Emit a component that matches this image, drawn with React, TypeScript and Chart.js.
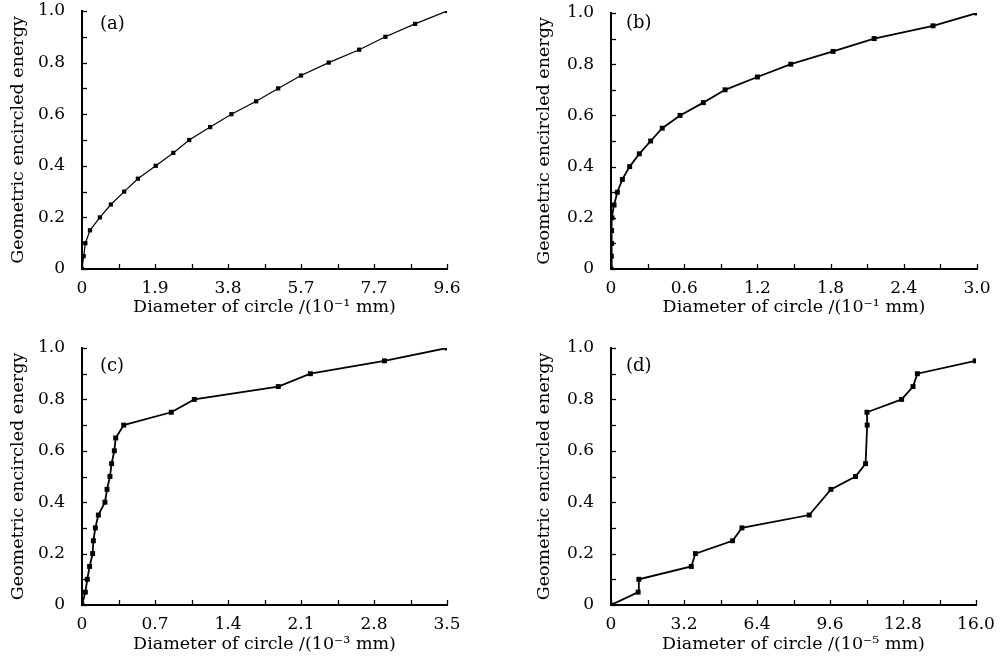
import React, { useEffect, useRef } from "react";
import { Chart, registerables } from "chart.js";
Chart.register(...registerables);

// ---- data ----
const xA = [0, 0.044, 0.088, 0.21, 0.47, 0.76, 1.11, 1.47, 1.94, 2.4, 2.82, 3.37, 3.93, 4.58, 5.16, 5.76, 6.49, 7.29, 7.98, 8.76, 9.6];
const yA = [0, 0.05, 0.1, 0.15, 0.2, 0.25, 0.3, 0.35, 0.4, 0.45, 0.5, 0.55, 0.6, 0.65, 0.7, 0.75, 0.8, 0.85, 0.9, 0.95, 1.0];

const xB = [0, 0.003, 0.005, 0.005, 0.008, 0.025, 0.052, 0.093, 0.153, 0.232, 0.325, 0.42, 0.566, 0.757, 0.935, 1.2, 1.474, 1.82, 2.157, 2.64, 3.0];
const yB = [0, 0.05, 0.1, 0.15, 0.2, 0.25, 0.3, 0.35, 0.4, 0.45, 0.5, 0.55, 0.6, 0.65, 0.7, 0.75, 0.8, 0.85, 0.9, 0.95, 1.0];

const xC = [0, 0.032, 0.051, 0.073, 0.102, 0.109, 0.128, 0.157, 0.22, 0.24, 0.268, 0.284, 0.31, 0.323, 0.4, 0.856, 1.077, 1.882, 2.19, 2.9, 3.5];
const yC = [0, 0.05, 0.1, 0.15, 0.2, 0.25, 0.3, 0.35, 0.4, 0.45, 0.5, 0.55, 0.6, 0.65, 0.7, 0.75, 0.8, 0.85, 0.9, 0.95, 1.0];

const xD = [0, 1.19, 1.22, 3.52, 3.7, 5.33, 5.74, 8.69, 9.64, 10.72, 11.16, 11.23, 11.22, 12.74, 13.24, 13.43, 15.97];
const yD = [0, 0.05, 0.1, 0.15, 0.2, 0.25, 0.3, 0.35, 0.45, 0.5, 0.55, 0.7, 0.75, 0.8, 0.85, 0.9, 0.95];

const yTicks = [0, 0.1, 0.2, 0.3, 0.4, 0.5, 0.6, 0.7, 0.8, 0.9, 1.0];
const yTickLabels = ["0", "", "0.2", "", "0.4", "", "0.6", "", "0.8", "", "1.0"];

const xTicksA = [0, 0.96, 1.92, 2.88, 3.84, 4.8, 5.76, 6.72, 7.68, 8.64, 9.6];
const xTickLabelsA = ["0", "", "1.9", "", "3.8", "", "5.7", "", "7.7", "", "9.6"];
const xTicksB = [0, 0.3, 0.6, 0.9, 1.2, 1.5, 1.8, 2.1, 2.4, 2.7, 3.0];
const xTickLabelsB = ["0", "", "0.6", "", "1.2", "", "1.8", "", "2.4", "", "3.0"];
const xTicksC = [0, 0.35, 0.7, 1.05, 1.4, 1.75, 2.1, 2.45, 2.8, 3.15, 3.5];
const xTickLabelsC = ["0", "", "0.7", "", "1.4", "", "2.1", "", "2.8", "", "3.5"];
const xTicksD = [0, 1.6, 3.2, 4.8, 6.4, 8.0, 9.6, 11.2, 12.8, 14.4, 16.0];
const xTickLabelsD = ["0", "", "3.2", "", "6.4", "", "9.6", "", "12.8", "", "16.0"];

const yTitle = "Geometric encircled energy";
const xTitleA = "Diameter of circle /(10\u207B\u00B9 mm)";
const xTitleB = "Diameter of circle /(10\u207B\u00B9 mm)";
const xTitleC = "Diameter of circle /(10\u207B\u00B3 mm)";
const xTitleD = "Diameter of circle /(10\u207B\u2075 mm)";

const FONT = "'DejaVu Serif', 'Liberation Serif', serif";

type PanelProps = {
  left: number; top: number; width: number; height: number;
  xs: number[]; ys: number[];
  xMax: number; xTicks: number[]; xLabels: string[]; xTitle: string;
  label: string; labelDx: number; labelDy: number;
  padTop: number; padRight: number; yW: number; xH: number; yTitlePad: number;
  lineW: number; pointR: number;
};

const inwardTicks = {
  id: "inwardTicks",
  afterDraw(chart: any) {
    const ctx = chart.ctx;
    const { left, bottom } = chart.chartArea;
    ctx.save();
    ctx.strokeStyle = "#000";
    ctx.lineWidth = 1.3;
    const xs = chart.scales.x;
    xs.ticks.forEach((t: any) => {
      const px = Math.round(xs.getPixelForValue(t.value)) + 0.5;
      ctx.beginPath();
      ctx.moveTo(px, bottom);
      ctx.lineTo(px, bottom - 5);
      ctx.stroke();
    });
    const ys = chart.scales.y;
    ys.ticks.forEach((t: any) => {
      const py = Math.round(ys.getPixelForValue(t.value)) + 0.5;
      ctx.beginPath();
      ctx.moveTo(left, py);
      ctx.lineTo(left + 5, py);
      ctx.stroke();
    });
    const o = chart.options.plugins.panelLabel;
    ctx.fillStyle = "#000";
    ctx.font = `18px ${FONT}`;
    ctx.textBaseline = "middle";
    ctx.textAlign = "left";
    ctx.fillText(o.text, chart.chartArea.left + o.dx, chart.chartArea.top + o.dy);
    ctx.restore();
  },
};

function Panel(p: PanelProps) {
  const ref = useRef<HTMLCanvasElement>(null);
  useEffect(() => {
    if (!ref.current) return;
    const data = p.xs.map((x, i) => ({ x, y: p.ys[i] }));
    const chart = new Chart(ref.current, {
      type: "line",
      data: {
        datasets: [
          {
            data,
            borderColor: "#000",
            backgroundColor: "#000",
            borderWidth: p.lineW,
            pointStyle: "rect",
            pointRadius: p.pointR,
            pointBorderWidth: 0,
            tension: 0,
            fill: false,
          },
        ],
      },
      options: {
        responsive: false,
        animation: false,
        devicePixelRatio: 1,
        layout: { padding: { top: p.padTop, right: p.padRight, bottom: 0, left: 0 } },
        plugins: {
          legend: { display: false },
          tooltip: { enabled: false },
          panelLabel: { text: p.label, dx: p.labelDx, dy: p.labelDy },
        } as any,
        scales: {
          x: {
            type: "linear",
            min: 0,
            max: p.xMax,
            afterBuildTicks: (s: any) => { s.ticks = p.xTicks.map((v) => ({ value: v })); },
            afterFit: (s: any) => { s.height = p.xH; s.paddingLeft = 0; s.paddingRight = 0; },
            grid: { display: false },
            border: { color: "#000", width: 2 },
            ticks: {
              autoSkip: false, maxRotation: 0, padding: 1, color: "#000",
              font: { family: FONT, size: 17 },
              callback: (_v: any, i: number) => p.xLabels[i],
            },
            title: { display: true, text: p.xTitle, color: "#000", font: { family: FONT, size: 17.5 }, padding: 0 },
          },
          y: {
            type: "linear",
            min: 0,
            max: 1,
            afterBuildTicks: (s: any) => { s.ticks = yTicks.map((v) => ({ value: v })); },
            afterFit: (s: any) => { s.width = p.yW; s.paddingTop = 0; s.paddingBottom = 0; },
            grid: { display: false },
            border: { color: "#000", width: 2 },
            ticks: {
              autoSkip: false, padding: 9, color: "#000",
              font: { family: FONT, size: 17 },
              callback: (_v: any, i: number) => yTickLabels[i],
            },
            title: { display: true, text: yTitle, color: "#000", font: { family: FONT, size: 17.5 }, padding: { top: p.yTitlePad, bottom: 0 } },
          },
        },
      },
      plugins: [inwardTicks],
    } as any);
    return () => chart.destroy();
  }, []);
  return (
    <canvas
      ref={ref}
      width={p.width}
      height={p.height}
      style={{ position: "absolute", left: p.left, top: p.top, width: p.width, height: p.height }}
    />
  );
}

export default function App() {
  return (
    <div style={{ position: "absolute", left: 0, top: 0, width: 1002, height: 658, background: "#fff", overflow: "hidden" }}>
      <Panel left={0} top={0} width={500} height={318} xs={xA} ys={yA} xMax={9.6} xTicks={xTicksA} xLabels={xTickLabelsA} xTitle={xTitleA}
        label="(a)" labelDx={18} labelDy={13} padTop={11} padRight={53} yW={82} xH={49} yTitlePad={7.5} lineW={1.2} pointR={3} />
      <Panel left={520} top={0} width={482} height={318} xs={xB} ys={yB} xMax={3.0} xTicks={xTicksB} xLabels={xTickLabelsB} xTitle={xTitleB}
        label="(b)" labelDx={15} labelDy={10} padTop={13} padRight={25} yW={91} xH={49} yTitlePad={13.5} lineW={1.8} pointR={3.5} />
      <Panel left={0} top={330} width={500} height={325} xs={xC} ys={yC} xMax={3.5} xTicks={xTicksC} xLabels={xTickLabelsC} xTitle={xTitleC}
        label="(c)" labelDx={18} labelDy={18} padTop={18} padRight={53} yW={82} xH={50} yTitlePad={7.5} lineW={1.8} pointR={3.5} />
      <Panel left={520} top={330} width={482} height={325} xs={xD} ys={yD} xMax={16} xTicks={xTicksD} xLabels={xTickLabelsD} xTitle={xTitleD}
        label="(d)" labelDx={15} labelDy={18} padTop={18} padRight={26} yW={91} xH={50} yTitlePad={13.5} lineW={1.8} pointR={3.5} />
    </div>
  );
}
